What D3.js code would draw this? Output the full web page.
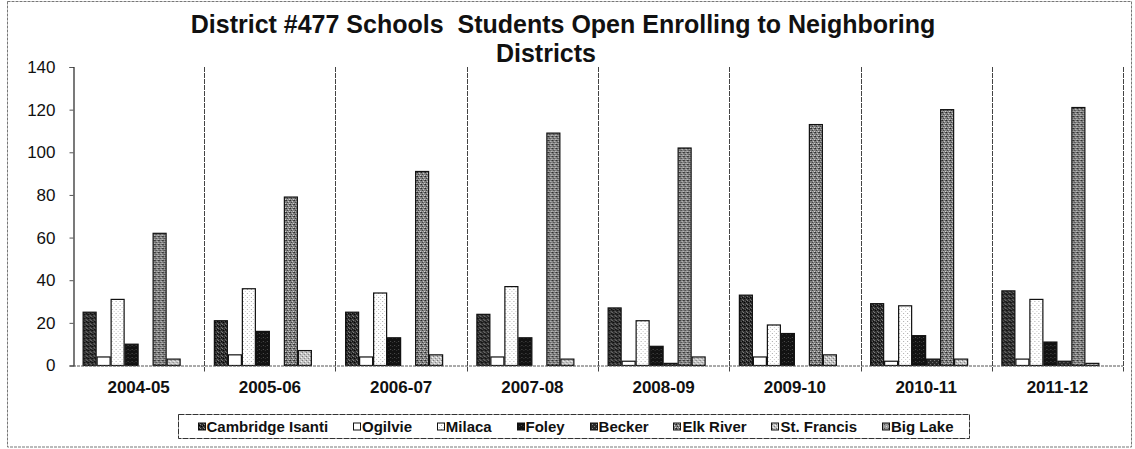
<!DOCTYPE html>
<html>
<head>
<meta charset="utf-8">
<script src="https://cdn.jsdelivr.net/npm/d3@7"></script>
<style>
  html, body { margin: 0; padding: 0; background: #fff; }
  svg { display: block; font-family: "Liberation Sans", Arial, sans-serif; }
</style>
</head>
<body>
<svg id="chart" width="1135" height="449"></svg>
<script>
// School years on the category axis
const years = ["2004-05", "2005-06", "2006-07", "2007-08", "2008-09", "2009-10", "2010-11", "2011-12"];

// Students leaving District #477 for each neighbouring district
const seriesNames = ["Cambridge Isanti", "Ogilvie", "Milaca", "Foley", "Becker", "Elk River", "St. Francis", "Big Lake"];
const cambridgeIsanti = [25, 21, 25, 24, 27, 33, 29, 35];
const ogilvie         = [4, 5, 4, 4, 2, 4, 2, 3];
const milaca          = [31, 36, 34, 37, 21, 19, 28, 31];
const foley           = [10, 16, 13, 13, 9, 15, 14, 11];
const becker          = [0, 0, 0, 0, 1, 0, 3, 2];
const elkRiver        = [62, 79, 91, 109, 102, 113, 120, 121];
const stFrancis       = [3, 7, 5, 3, 4, 5, 3, 1];
const bigLake         = [0, 0, 0, 0, 0, 0, 0, 0];

const yTicks = [0, 20, 40, 60, 80, 100, 120, 140];

const seriesValues = [cambridgeIsanti, ogilvie, milaca, foley, becker, elkRiver, stFrancis, bigLake];

const svg = d3.select("#chart");
const W = 1135, H = 449;

// Plot area
const plot = { left: 73, right: 1123, top: 67, bottom: 365.5 };

// ---- stipple fills (printed-grey look) ----
const fills = [
  { id: "p-cam", base: "#2e2e2e", dots: [[0,0,"#8a8a8a"],[2,1,"#666"],[1,2,"#000"],[3,3,"#7a7a7a"],[3,1,"#000"]] },
  { id: "p-ogi", base: "#ffffff", dots: [] },
  { id: "p-mil", base: "#ffffff", dots: [[1,1,"#aaa"],[3,3,"#ccc"]] },
  { id: "p-fol", base: "#121212", dots: [[1,1,"#505050"],[3,2,"#333"]] },
  { id: "p-bec", base: "#2a2a2a", dots: [[0,0,"#888"],[2,2,"#777"]] },
  { id: "p-elk", base: "#7e7e7e", dots: [[0,0,"#222"],[2,1,"#d0d0d0"],[1,2,"#3a3a3a"],[3,3,"#d8d8d8"],[3,0,"#4a4a4a"],[1,3,"#b0b0b0"]] },
  { id: "p-stf", base: "#c4c4c4", dots: [[0,0,"#6e6e6e"],[2,2,"#808080"],[1,3,"#f0f0f0"],[3,1,"#ffffff"]] },
  { id: "p-big", base: "#9a9a9a", dots: [[0,0,"#555"],[2,2,"#ddd"]] }
];

const defs = svg.append("defs");
fills.forEach(f => {
  const p = defs.append("pattern")
    .attr("id", f.id)
    .attr("patternUnits", "userSpaceOnUse")
    .attr("width", 4).attr("height", 4);
  p.append("rect").attr("width", 4).attr("height", 4).attr("fill", f.base);
  f.dots.forEach(([dx, dy, c]) => {
    p.append("rect").attr("x", dx).attr("y", dy).attr("width", 1).attr("height", 1).attr("fill", c);
  });
});

// Outer chart frame
svg.append("rect")
  .attr("x", 7.5).attr("y", 1.5)
  .attr("width", W - 11).attr("height", H - 3.5)
  .attr("fill", "none")
  .attr("stroke", "#777")
  .attr("stroke-width", 1)
  .attr("stroke-dasharray", "3,1");

// ---- scales ----
const x0 = d3.scaleBand()
  .domain(years)
  .range([plot.left, plot.right])
  .paddingInner(0.1467)
  .paddingOuter(0.0733);

const x1 = d3.scaleBand()
  .domain(seriesNames)
  .range([0, x0.bandwidth()]);

const y = d3.scaleLinear()
  .domain([0, 140])
  .range([plot.bottom, plot.top]);

// ---- group dividers ----
const gap = (x0.step() - x0.bandwidth()) / 2;
const dividerXs = years.map(yr => x0(yr) + x0.bandwidth() + gap);
svg.append("g")
  .selectAll("line")
  .data(dividerXs)
  .join("line")
  .attr("x1", d => Math.round(d) + 0.5)
  .attr("x2", d => Math.round(d) + 0.5)
  .attr("y1", plot.top)
  .attr("y2", plot.bottom + 6)
  .attr("stroke", "#444")
  .attr("stroke-width", 1)
  .attr("stroke-dasharray", "5,1");

// ---- bars ----
const rows = years.map((yr, i) => ({
  year: yr,
  values: seriesNames.map((s, k) => ({ series: s, k, value: seriesValues[k][i] }))
}));

svg.append("g")
  .selectAll("g")
  .data(rows)
  .join("g")
  .attr("transform", d => `translate(${x0(d.year)},0)`)
  .selectAll("rect")
  .data(d => d.values)
  .join("rect")
  .attr("x", d => x1(d.series) + 0.5)
  .attr("y", d => y(d.value))
  .attr("width", x1.bandwidth() - 1)
  .attr("height", d => y(0) - y(d.value))
  .attr("fill", d => `url(#${fills[d.k].id})`)
  .attr("stroke", "#111")
  .attr("stroke-width", 1.2);

// ---- y axis ----
const yAxis = d3.axisLeft(y)
  .tickValues(yTicks)
  .tickSize(4)
  .tickFormat(d3.format("d"));

const yG = svg.append("g")
  .attr("transform", `translate(${plot.left + 0.5},0)`)
  .call(yAxis);
yG.select(".domain").attr("stroke", "#222").attr("stroke-width", 1.2);
yG.selectAll(".tick line").attr("stroke", "#555");
yG.selectAll(".tick text")
  .attr("x", -18)
  .attr("font-size", 17)
  .attr("fill", "#111")
  .attr("font-family", "'Liberation Sans', Arial, sans-serif");

// ---- x axis baseline ----
svg.append("line")
  .attr("x1", plot.left).attr("x2", plot.right)
  .attr("y1", plot.bottom + 0.5).attr("y2", plot.bottom + 0.5)
  .attr("stroke", "#555")
  .attr("stroke-width", 1)
  .attr("stroke-dasharray", "3,1");

// category labels
svg.append("g")
  .selectAll("text")
  .data(years)
  .join("text")
  .attr("x", d => x0(d) + x0.bandwidth() / 2)
  .attr("y", 393)
  .attr("text-anchor", "middle")
  .attr("font-size", 17)
  .attr("font-weight", "bold")
  .attr("fill", "#111")
  .text(d => d);

// ---- title (two lines) ----
const title = svg.append("g")
  .attr("font-size", 25)
  .attr("font-weight", "bold")
  .attr("fill", "#111")
  .attr("text-anchor", "middle");
title.append("text")
  .attr("x", 563).attr("y", 33)
  .style("white-space", "pre")
  .text("District #477 Schools  Students Open Enrolling to Neighboring");
title.append("text")
  .attr("x", 546).attr("y", 62)
  .text("Districts");

// ---- legend ----
const legend = { left: 178.5, right: 969.5, top: 414.5, bottom: 438.5, pad: 19, sw: 7, swGap: 2 };
svg.append("rect")
  .attr("x", legend.left).attr("y", legend.top)
  .attr("width", legend.right - legend.left)
  .attr("height", legend.bottom - legend.top)
  .attr("fill", "#fff")
  .attr("stroke", "#333")
  .attr("stroke-width", 1)
  .attr("stroke-dasharray", "6,1");

const lg = svg.append("g");
const items = lg.selectAll("g")
  .data(seriesNames)
  .join("g");
items.append("rect")
  .attr("width", legend.sw).attr("height", legend.sw)
  .attr("y", 423)
  .attr("fill", (d, k) => `url(#${fills[k].id})`)
  .attr("stroke", "#111")
  .attr("stroke-width", 1);
const labels = items.append("text")
  .attr("y", 431.5)
  .attr("font-size", 15)
  .attr("font-weight", "bold")
  .attr("fill", "#111")
  .text(d => d);

// spread items evenly across the legend box
const widths = [];
labels.each(function () { widths.push(this.getComputedTextLength()); });
const inner = (legend.right - legend.left) - legend.pad * 2 + 3;
const used = d3.sum(widths) + seriesNames.length * (legend.sw + legend.swGap);
const between = (inner - used) / (seriesNames.length - 1);
let cx = legend.left + legend.pad;
items.each(function (d, k) {
  const g = d3.select(this);
  g.select("rect").attr("x", Math.round(cx) + 0.5);
  g.select("text").attr("x", cx + legend.sw + legend.swGap);
  cx += legend.sw + legend.swGap + widths[k] + between;
});
</script>
</body>
</html>
